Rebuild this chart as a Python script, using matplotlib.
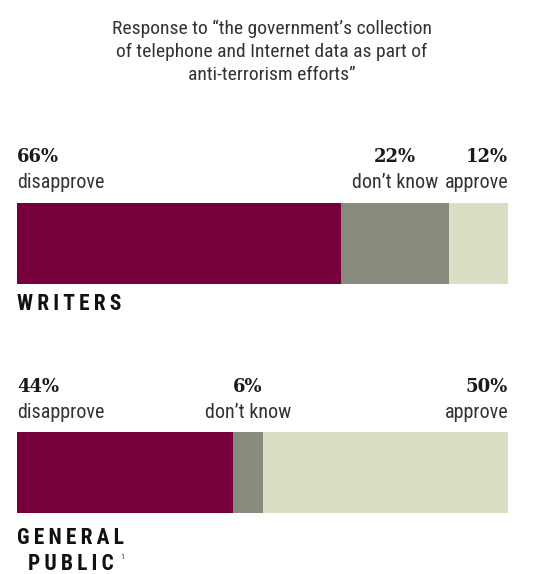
import numpy as np
import matplotlib.pyplot as plt

# dados
groups = ['WRITERS', 'GENERAL\nPUBLIC']
categories = ['disapprove', "don\u2019t know", 'approve']
writers = [66, 22, 12]
public = [44, 6, 50]
values = [writers, public]

colors = ['#78003a', '#868b7e', '#d9dfc3']
narrow = ['Roboto Condensed', 'Liberation Sans Narrow', 'Lato', 'DejaVu Sans']

W, H = 544, 574
fig = plt.figure(figsize=(W / 100, H / 100), dpi=100)
# eixo em pixels no y (invertido), em % no x
ax = fig.add_axes([17 / W, 0, (508 - 17) / W, 1])
ax.set_xlim(0, 100)
ax.set_ylim(H, 0)
ax.axis('off')

# título
fig.text(0.5, 1 - 52 / H,
         'Response to \u201cthe government\u2019s collection\n'
         'of telephone and Internet data as part of\n'
         'anti-terrorism efforts\u201d',
         ha='center', va='center', fontsize=14, family=narrow,
         color='#333333', linespacing=1.35)

bar_y = [243.5, 472.5]
pct_y = [157, 387]
lab_y = [182, 412]

for vals, by, py, ly in zip(values, bar_y, pct_y, lab_y):
    left = np.concatenate([[0], np.cumsum(vals)[:-1]])
    ax.barh(by, vals, left=left, height=81, color=colors, linewidth=0)
    for i, (v, l) in enumerate(zip(vals, left)):
        if i == 0:
            x, ha = 0, 'left'
        elif i == len(vals) - 1:
            x, ha = 100, 'right'
        else:
            x, ha = l + v / 2, 'center'
        ax.text(x, py, f'{v}%', ha=ha, va='center', fontsize=13,
                fontweight='bold', family='DejaVu Serif', color='#1a1a1a')
        ax.text(x, ly, categories[i], ha=ha, va='center', fontsize=14.5,
                family=narrow, color='#333333')

# rótulos dos grupos
sp = '\u2009'
kw = dict(ha='left', va='center', fontsize=15.5, fontweight='heavy',
          family=narrow, color='#111111')
ax.text(0, 304, sp.join(groups[0]), **kw)
ax.text(0, 538, sp.join(groups[1].split('\n')[0]), **kw)
ax.text(2.2, 564, sp.join(groups[1].split('\n')[1]), **kw)
ax.text(21.0, 557, '1', ha='left', va='center', fontsize=6, family=narrow,
        color='#333333')

fig.savefig('out.png', dpi=100)
